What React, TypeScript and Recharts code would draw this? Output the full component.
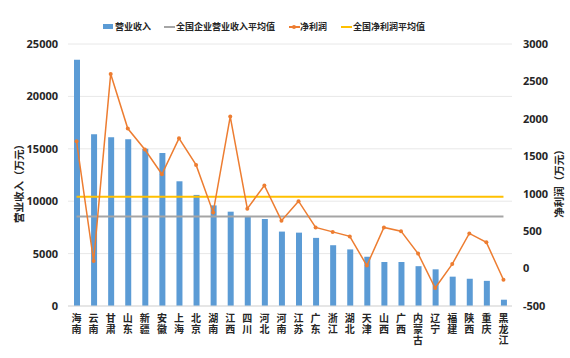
import { ComposedChart, Bar, Line, XAxis, YAxis, CartesianGrid, Label } from 'recharts';

const provinces = [
  '海南', '云南', '甘肃', '山东', '新疆', '安徽', '上海', '北京', '湖南', '江西', '四川', '河北', '河南',
  '江苏', '广东', '浙江', '湖北', '天津', '山西', '广西', '内蒙古', '辽宁', '福建', '陕西', '重庆', '黑龙江',
];
const revenue = [
  23500, 16400, 16100, 15900, 15000, 14600, 11900, 10600, 9600, 9000, 8500, 8300, 7100,
  7000, 6500, 5800, 5400, 4700, 4200, 4200, 3800, 3500, 2800, 2600, 2400, 600,
];
const profit = [
  1700, 100, 2600, 1870, 1590, 1260, 1740, 1385, 750, 2030, 800, 1110, 640,
  900, 550, 490, 430, 40, 550, 500, 200, -260, 60, 470, 350, -150,
];
const avgRevenue = 8550;
const avgProfit = 960;
const leftTicks = [0, 5000, 10000, 15000, 20000, 25000];
const rightTicks = [-500, 0, 500, 1000, 1500, 2000, 2500, 3000];

const data = provinces.map((name, i) => ({
  name,
  revenue: revenue[i],
  profit: profit[i],
  avgRevenue,
  avgProfit,
}));

const FONT = '"Noto Sans CJK SC", "Open Sans", sans-serif';
const NUM_FONT = '"Open Sans", "Noto Sans CJK SC", sans-serif';
const TEXT = '#262626';

// x labels run top to bottom, upright characters
const VerticalTick = (props: any) => {
  const { x, y, payload } = props;
  return (
    <text
      x={x}
      y={y + 7}
      fontSize={10}
      fontWeight="bold"
      fill={TEXT}
      fontFamily={FONT}
      style={{ writingMode: 'vertical-rl', textOrientation: 'upright', letterSpacing: 1 } as any}
    >
      {payload.value}
    </text>
  );
};

const AxisTitle = (props: any) => {
  const { viewBox, value, cx } = props;
  const cy = viewBox.y + viewBox.height / 2 + 6;
  return (
    <text x={cx} y={cy} transform={`rotate(-90, ${cx}, ${cy})`} textAnchor="middle" dominantBaseline="central" fontSize={10.5} fontWeight="bold" fill={TEXT} fontFamily={FONT}>
      {value}
    </text>
  );
};

const legendText = { position: 'absolute' as const, top: 20, fontSize: 9, fontWeight: 'bold' as const, color: TEXT, fontFamily: FONT, lineHeight: '13px', whiteSpace: 'nowrap' as const };

function LegendBar() {
  return (
    <div style={{ position: 'absolute', left: 0, top: 0, width: 570, height: 40 }}>
      <div style={{ position: 'absolute', left: 103, top: 24, width: 10, height: 5, background: '#5B9BD5' }} />
      <div style={{ ...legendText, left: 115 }}>营业收入</div>
      <div style={{ position: 'absolute', left: 164, top: 26, width: 11, height: 2, background: '#A5A5A5' }} />
      <div style={{ ...legendText, left: 176 }}>全国企业营业收入平均值</div>
      <div style={{ position: 'absolute', left: 289, top: 26, width: 11, height: 2, background: '#ED7D31' }} />
      <div style={{ position: 'absolute', left: 292, top: 25, width: 4, height: 4, borderRadius: 2, background: '#ED7D31' }} />
      <div style={{ ...legendText, left: 300 }}>净利润</div>
      <div style={{ position: 'absolute', left: 341, top: 26, width: 11, height: 2, background: '#FFC000' }} />
      <div style={{ ...legendText, left: 353 }}>全国净利润平均值</div>
    </div>
  );
}

export default function App() {
  return (
    <div style={{ position: 'absolute', left: 0, top: 0, width: 570, height: 358, background: '#fff' }}>
      <ComposedChart width={570} height={358} data={data} margin={{ top: 44, right: 0, bottom: 0, left: 0 }}>
        <CartesianGrid vertical={false} stroke="#E8E8E8" yAxisId="left" />
        <XAxis
          dataKey="name"
          interval={0}
          height={52}
          tickLine={false}
          tickSize={0}
          tickMargin={0}
          axisLine={{ stroke: '#D9D9D9' }}
          tick={<VerticalTick />}
        />
        <YAxis
          yAxisId="left"
          width={68}
          domain={[0, 25000]}
          ticks={leftTicks}
          tickLine={false}
          tickSize={0}
          tickMargin={10}
          axisLine={false}
          tick={{ fontSize: 11, fontWeight: 'bold', fill: TEXT, fontFamily: NUM_FONT }}
        >
          <Label value="营业收入（万元）" content={<AxisTitle cx={18} />} />
        </YAxis>
        <YAxis
          yAxisId="right"
          orientation="right"
          width={58}
          domain={[-500, 3000]}
          ticks={rightTicks}
          tickLine={false}
          tickSize={0}
          tickMargin={11}
          axisLine={false}
          tick={{ fontSize: 11, fontWeight: 'bold', fill: TEXT, fontFamily: NUM_FONT, textAnchor: 'start' }}
        >
          <Label value="净利润（万元）" content={<AxisTitle cx={558} />} />
        </YAxis>
        <Bar yAxisId="left" dataKey="revenue" fill="#5B9BD5" barSize={6} isAnimationActive={false} />
        <Line yAxisId="left" dataKey="avgRevenue" stroke="#A5A5A5" strokeWidth={2} dot={false} activeDot={false} isAnimationActive={false} />
        <Line yAxisId="right" dataKey="avgProfit" stroke="#FFC000" strokeWidth={2} dot={false} activeDot={false} isAnimationActive={false} />
        <Line
          yAxisId="right"
          dataKey="profit"
          type="linear"
          stroke="#ED7D31"
          strokeWidth={1.5}
          dot={{ r: 2, fill: '#ED7D31', stroke: '#ED7D31', strokeWidth: 0 }}
          activeDot={false}
          isAnimationActive={false}
        />
      </ComposedChart>
      <LegendBar />
    </div>
  );
}
